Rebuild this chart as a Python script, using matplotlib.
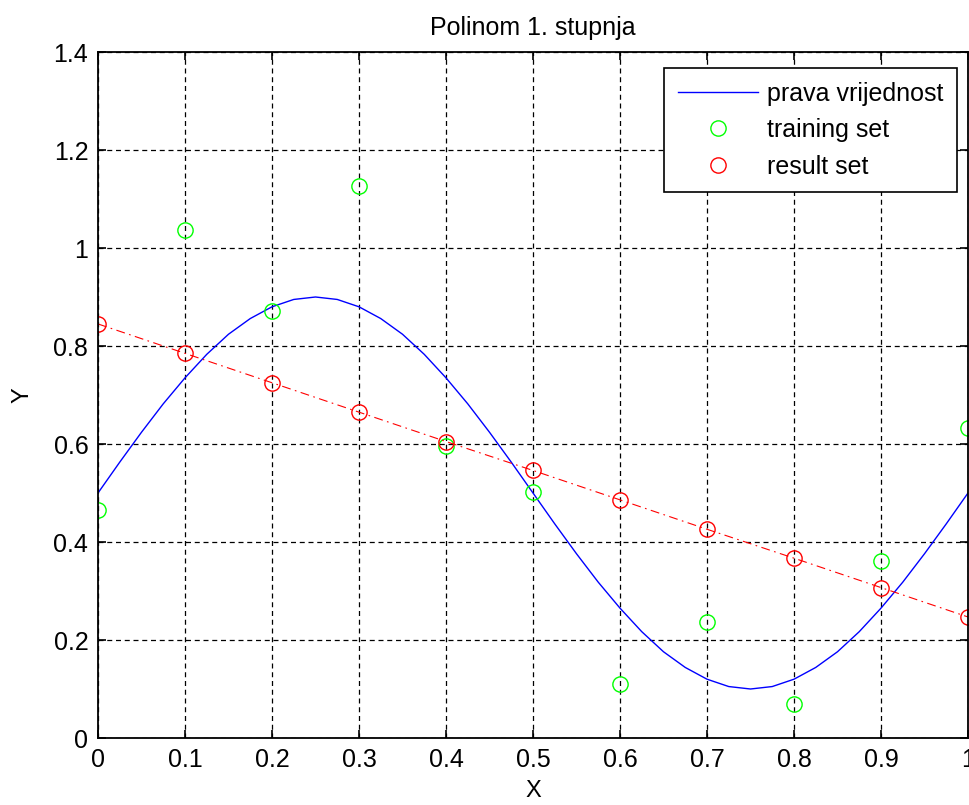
import matplotlib.pyplot as plt
from matplotlib.ticker import FixedLocator, FixedFormatter

# podaci ocitani sa slike
x_tocke = [0.0, 0.1, 0.2, 0.3, 0.4, 0.5, 0.6, 0.7, 0.8, 0.9, 1.0]
training = [0.465, 1.037, 0.871, 1.127, 0.596, 0.502, 0.110, 0.237, 0.069, 0.361, 0.633]
result = [0.845, 0.785, 0.725, 0.665, 0.605, 0.546, 0.486, 0.426, 0.367, 0.307, 0.247]

x_prava = [0.0, 0.025, 0.05, 0.075, 0.1, 0.125, 0.15, 0.175, 0.2, 0.225,
           0.25, 0.275, 0.3, 0.325, 0.35, 0.375, 0.4, 0.425, 0.45, 0.475,
           0.5, 0.525, 0.55, 0.575, 0.6, 0.625, 0.65, 0.675, 0.7, 0.725,
           0.75, 0.775, 0.8, 0.825, 0.85, 0.875, 0.9, 0.925, 0.95, 0.975, 1.0]
y_prava = [0.500, 0.563, 0.624, 0.682, 0.735, 0.783, 0.824, 0.856, 0.880, 0.895,
           0.900, 0.895, 0.880, 0.856, 0.824, 0.783, 0.735, 0.682, 0.624, 0.563,
           0.500, 0.437, 0.376, 0.318, 0.265, 0.217, 0.176, 0.144, 0.120, 0.105,
           0.100, 0.105, 0.120, 0.144, 0.176, 0.217, 0.265, 0.318, 0.376, 0.437, 0.500]

x_ticks = [0, 0.1, 0.2, 0.3, 0.4, 0.5, 0.6, 0.7, 0.8, 0.9, 1]
x_labels = ["0", "0.1", "0.2", "0.3", "0.4", "0.5", "0.6", "0.7", "0.8", "0.9", "1"]
y_ticks = [0, 0.2, 0.4, 0.6, 0.8, 1.0, 1.2, 1.4]
y_labels = ["0", "0.2", "0.4", "0.6", "0.8", "1", "1.2", "1.4"]

plt.rcParams["font.family"] = ["Liberation Sans", "DejaVu Sans"]

fig = plt.figure(figsize=(9.7, 8.05), dpi=100)
ax = fig.add_axes([98 / 970, 1 - 738 / 805, 870 / 970, 686 / 805])

ax.plot(x_prava, y_prava, color="blue", linewidth=1.0, label="prava vrijednost")
ax.plot(x_tocke, training, linestyle="none", marker="o", markersize=11,
        markerfacecolor="none", markeredgecolor=(0, 1, 0), markeredgewidth=1.0,
        label="training set")
ax.plot(x_tocke, result, color="red", linewidth=0.8, dashes=(8, 4, 1.5, 4))
ax.plot(x_tocke, result, linestyle="none", marker="o", markersize=11,
        markerfacecolor="none", markeredgecolor="red", markeredgewidth=1.0,
        label="result set")

ax.set_xlim(0, 1)
ax.set_ylim(0, 1.4)
ax.xaxis.set_major_locator(FixedLocator(x_ticks))
ax.xaxis.set_major_formatter(FixedFormatter(x_labels))
ax.yaxis.set_major_locator(FixedLocator(y_ticks))
ax.yaxis.set_major_formatter(FixedFormatter(y_labels))

ax.grid(True, color="black", linestyle=(0, (4, 3)), linewidth=0.9)
ax.tick_params(direction="in", length=6, width=1.2, top=True, right=True,
               labelsize=18, pad=7, colors="black")
for s in ax.spines.values():
    s.set_linewidth(1.3)
    s.set_color("black")

ax.set_title("Polinom 1. stupnja", fontsize=18, pad=12)
ax.set_xlabel("X", fontsize=17, labelpad=6)
ax.set_ylabel("Y", fontsize=17, labelpad=14)

leg = ax.legend(loc="upper right", bbox_to_anchor=(0.9874, 0.9767),
                borderaxespad=0, fontsize=18, fancybox=False, framealpha=1,
                edgecolor="black", handlelength=3.2, handletextpad=0.35,
                labelspacing=0.5, borderpad=0.55)
leg.get_frame().set_linewidth(1.2)

fig.savefig("out.png", dpi=100)
